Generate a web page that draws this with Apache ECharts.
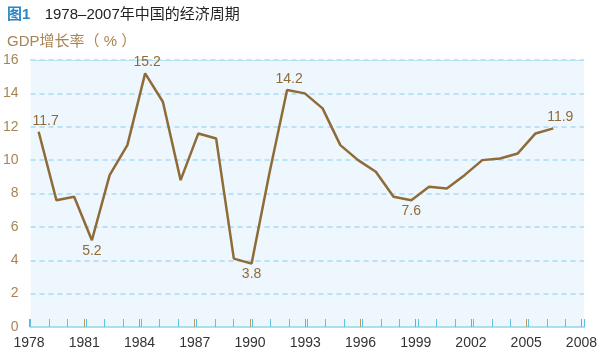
<!DOCTYPE html>
<html>
<head>
<meta charset="utf-8">
<script src="https://cdn.jsdelivr.net/npm/echarts@6/dist/echarts.min.js"></script>
<style>html,body{margin:0;padding:0;background:#fff}#c{width:600px;height:355px}</style>
</head>
<body>
<div id="c"></div>
<script>
var years = [1978,1979,1980,1981,1982,1983,1984,1985,1986,1987,1988,1989,1990,1991,1992,1993,1994,1995,1996,1997,1998,1999,2000,2001,2002,2003,2004,2005,2006,2007];
var gdpGrowth = [11.7,7.6,7.8,5.2,9.1,10.9,15.2,13.5,8.8,11.6,11.3,4.1,3.8,9.2,14.2,14.0,13.1,10.9,10.0,9.3,7.8,7.6,8.4,8.3,9.1,10.0,10.1,10.4,11.6,11.9];
var labelledAbove = [1978,1984,1992,2007];
var labelledBelow = [1981,1990,1999];
var yTicks = [0,2,4,6,8,10,12,14,16];
var xTickYears = [1978,1981,1984,1987,1990,1993,1996,1999,2002,2005,2008];

var FONT = '"Liberation Sans", "Noto Sans CJK SC", sans-serif';
var BROWN = '#8e6b37';
var TAN = '#a88454';
var BLUE = '#5cc3e6';

var seriesData = years.map(function(y, i){
  var item = { value: [y, gdpGrowth[i]] };
  if (labelledAbove.indexOf(y) >= 0) {
    item.label = { show: true, position: 'top', distance: 4, offset: [y===1978?7:(y===2007?7:2), 0] };
  } else if (labelledBelow.indexOf(y) >= 0) {
    item.label = { show: true, position: 'bottom', distance: 4 };
  }
  return item;
});

var chart = echarts.init(document.getElementById('c'), null, {renderer:'canvas'});
var gridRect = { left: 29, right: 16, top: 60, bottom: 28 };
chart.setOption({
  animation: false,
  title: [{
    text: '{b|图1}  {t|1978–2007年中国的经济周期}',
    left: 2, top: 2,
    textStyle: {
      fontFamily: FONT, fontSize: 15, color: '#222222', fontWeight: 'normal',
      rich: {
        b: { fontFamily: FONT, fontSize: 15, color: '#2a86c6', fontWeight: 'bold', padding: [0, 6, 0, 0] },
        t: { fontFamily: FONT, fontSize: 15, color: '#222222' }
      }
    }
  },{
    text: 'GDP增长率（ % ）',
    left: 2, top: 29,
    textStyle: { fontFamily: FONT, fontSize: 15, color: TAN, fontWeight: 'normal' }
  }],
  grid: [
    Object.assign({ show: true, backgroundColor: '#eef7fd', borderWidth: 0 }, gridRect),
    Object.assign({ show: false }, gridRect)
  ],
  xAxis: [
    { gridIndex: 0, type: 'value', position: 'bottom', min: 1978, max: 2008, interval: 1,
      axisLine: { show: true, lineStyle: { color: '#a9def4', width: 2 } },
      axisTick: { show: true, inside: true, length: 8, lineStyle: { color: BLUE, width: 1 } },
      axisLabel: { show: false }, splitLine: { show: false } },
    { gridIndex: 0, type: 'value', position: 'top', min: 1978, max: 2008,
      axisLine: { show: true, lineStyle: { color: '#b5e2f6', width: 1 } },
      axisTick: { show: false }, axisLabel: { show: false }, splitLine: { show: false } },
    { gridIndex: 1, type: 'value', position: 'bottom', min: 1978, max: 2008, interval: 3,
      axisLine: { show: false },
      axisTick: { show: true, inside: true, length: 8, lineStyle: { color: '#b99a6e', width: 1 } },
      axisLabel: { show: true, margin: 9, fontFamily: FONT, fontSize: 14, color: '#333333',
        formatter: function(v){ return xTickYears.indexOf(v) >= 0 ? String(v) : ''; } },
      splitLine: { show: false } },
    { gridIndex: 1, type: 'value', position: 'top', min: 1977.456, max: 2008.587, show: false }
  ],
  yAxis: [
    { gridIndex: 0, type: 'value', min: 0, max: 16, interval: 2,
      axisLine: { show: false }, axisTick: { show: false },
      axisLabel: { margin: 12, fontFamily: FONT, fontSize: 14, color: TAN,
        formatter: function(v){ return yTicks.indexOf(v) >= 0 ? String(v) : ''; } },
      splitLine: { show: true, lineStyle: { color: '#a9dcf3', type: [5, 4], width: 1.5 } } },
    { gridIndex: 1, type: 'value', min: 0, max: 16, interval: 2, show: false }
  ],
  series: [{
    type: 'line',
    xAxisIndex: 3, yAxisIndex: 1,
    data: seriesData,
    symbol: 'circle',
    symbolSize: 0,
    showSymbol: true,
    showAllSymbol: true,
    lineStyle: { color: BROWN, width: 2.5 },
    itemStyle: { color: BROWN },
    label: { show: false, fontFamily: FONT, fontSize: 14, color: BROWN,
      formatter: function(p){ return p.value[1].toFixed(1); } },
    z: 5
  }]
});
</script>
</body>
</html>
